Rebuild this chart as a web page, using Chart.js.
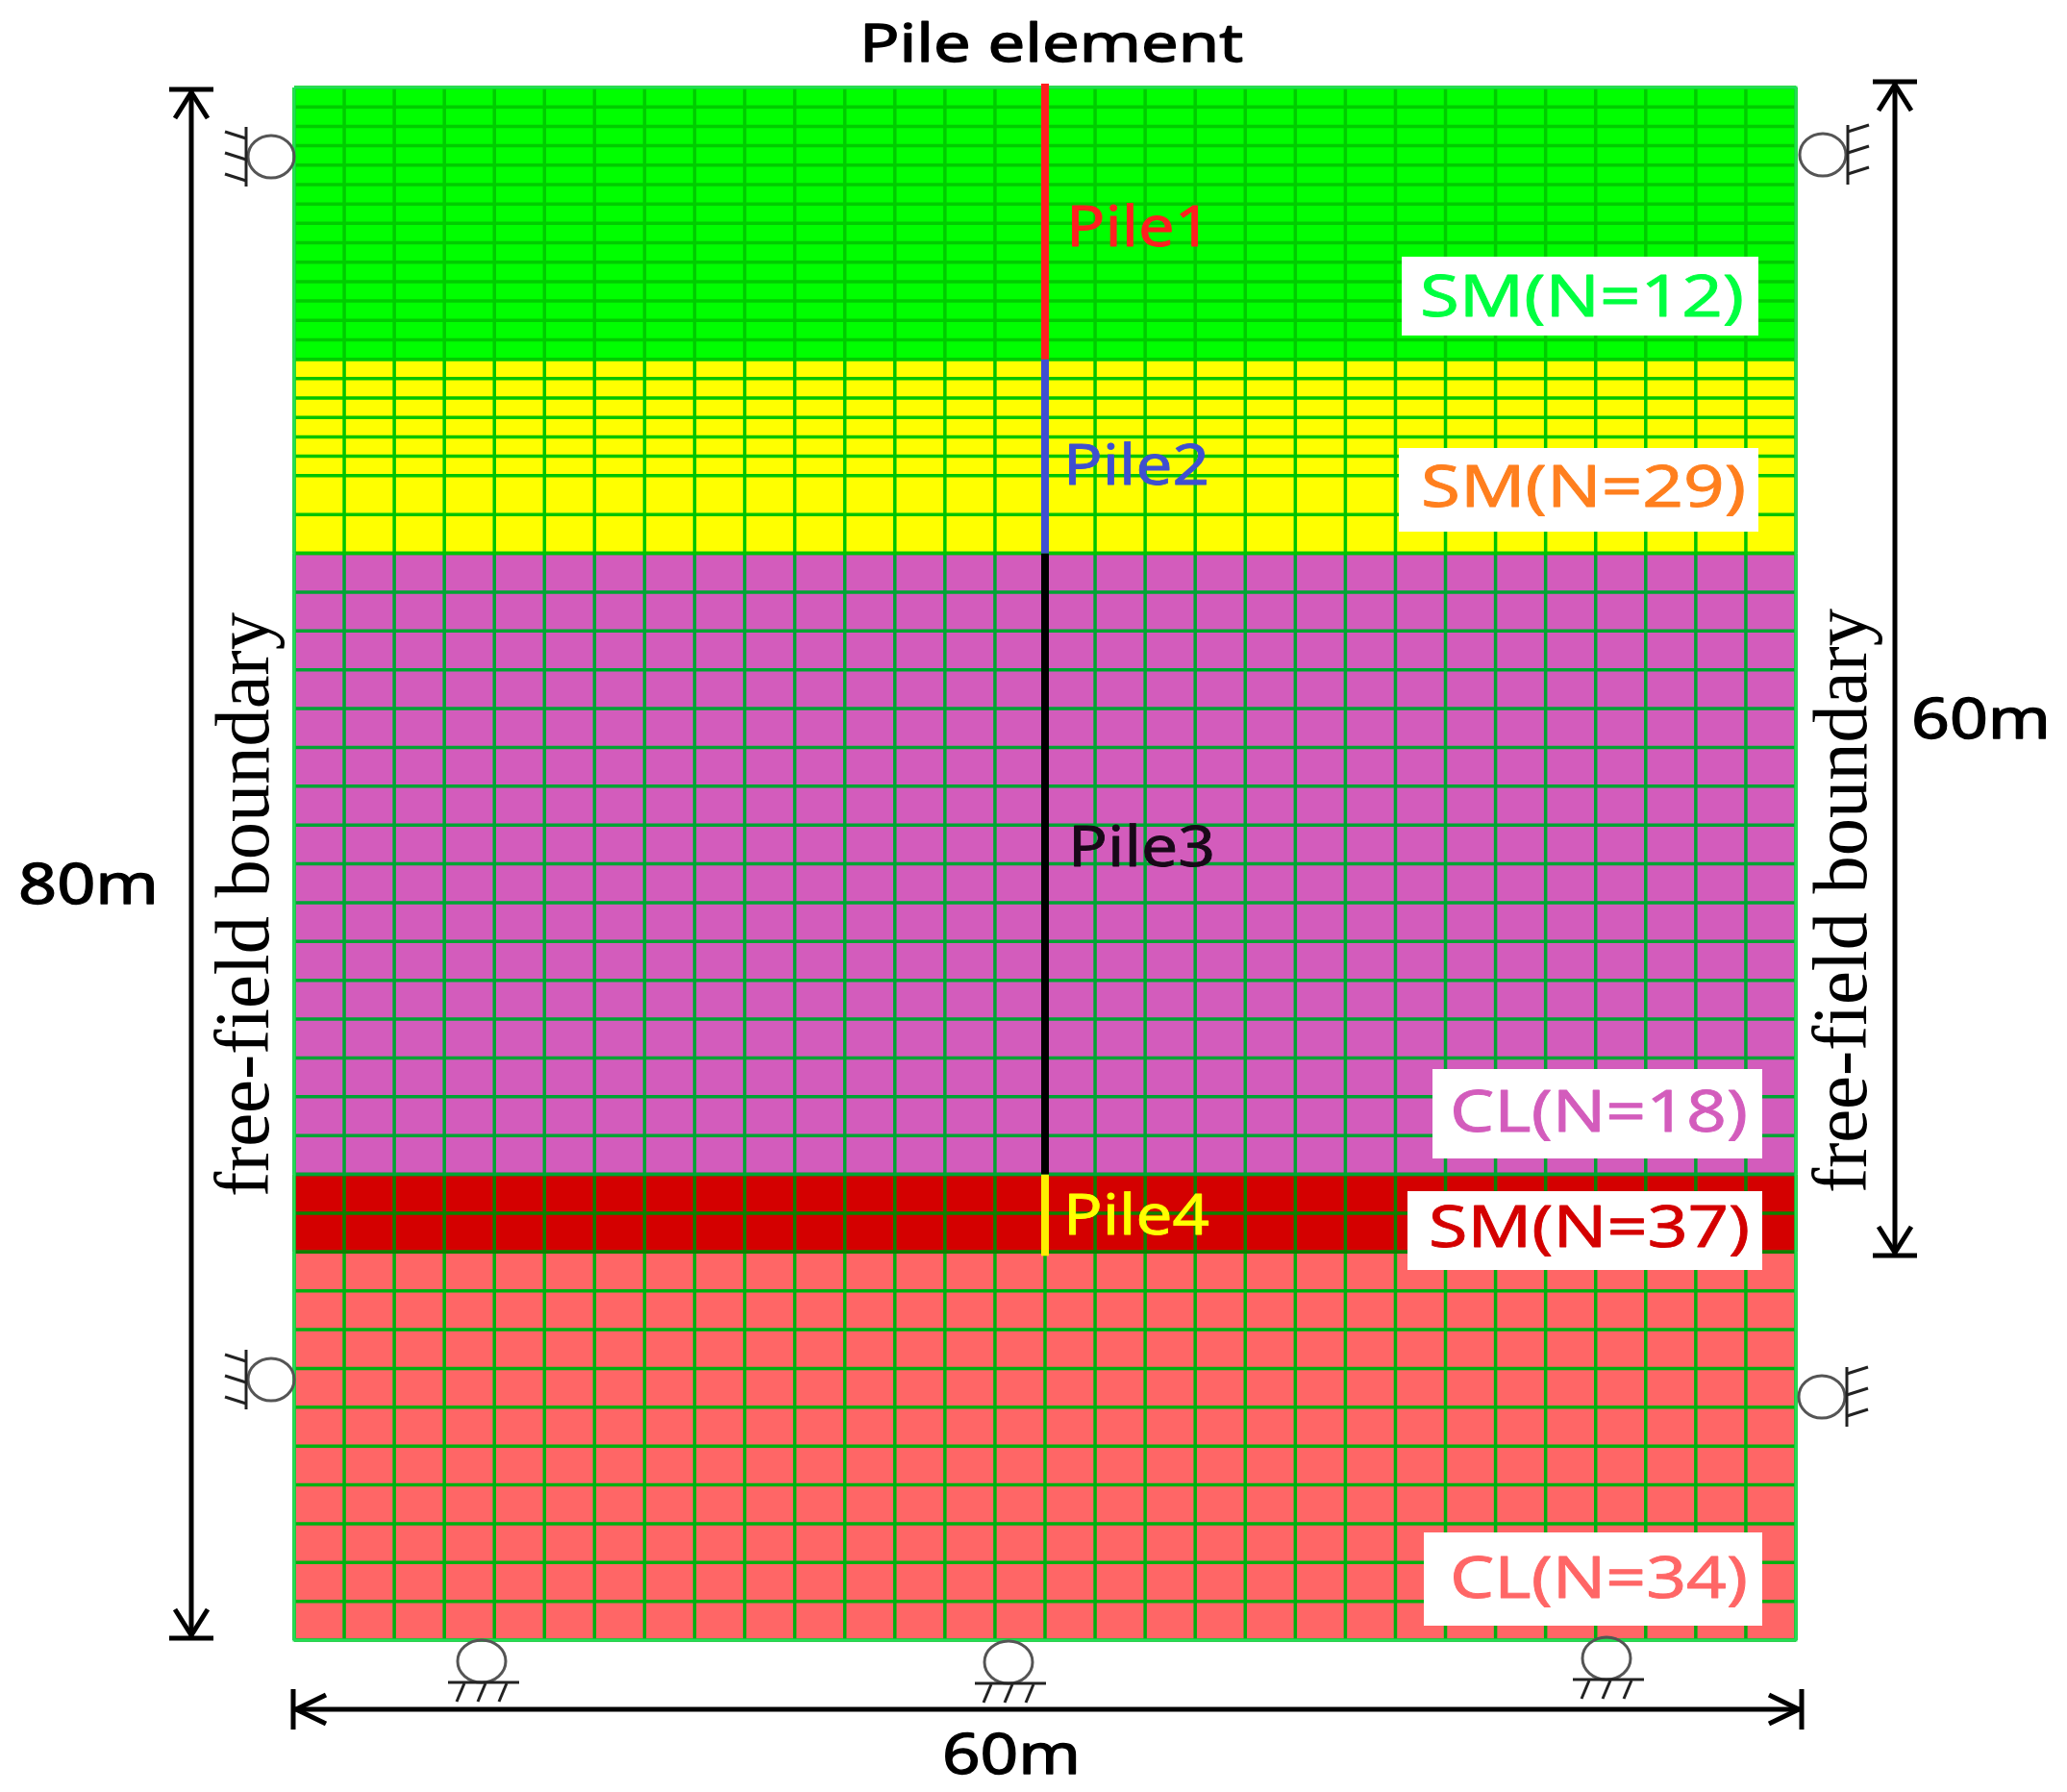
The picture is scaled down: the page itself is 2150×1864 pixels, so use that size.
<!DOCTYPE html>
<html>
<head>
<meta charset="utf-8">
<title>Pile element mesh</title>
<script src="https://cdn.jsdelivr.net/npm/chart.js@4"></script>
<style>
  html, body { margin: 0; padding: 0; background: #fff; }
  canvas { display: block; }
</style>
</head>
<body>
<canvas id="chart" width="2150" height="1864"></canvas>
<script>
// soil layers, depth in metres from the top of the model
var layerNames = ['SM(N=12)', 'SM(N=29)', 'CL(N=18)', 'SM(N=37)', 'CL(N=34)'];
var layerTop = [0, 14, 24, 56, 60];
var layerBottom = [14, 24, 56, 60, 80];
var layerColors = ['#00ff00', '#ffff00', '#d35cbc', '#d40000', '#ff6666'];
var meshColors = ['#00cc00', '#00c400', '#00a434', '#0f8000', '#00b010'];
var labelColors = ['#00ff40', '#ff7f1e', '#d35cbc', '#d40000', '#ff6666'];

// mesh lines, metres
var meshDepths = [0, 1, 2, 3, 4, 5, 6, 7, 8, 9, 10, 11, 12, 13, 14, 15, 16, 17, 18, 19, 20, 22, 24,
  26, 28, 30, 32, 34, 36, 38, 40, 42, 44, 46, 48, 50, 52, 54, 56, 58, 60,
  62, 64, 66, 68, 70, 72, 74, 76, 78, 80];
var meshX = [0, 2, 4, 6, 8, 10, 12, 14, 16, 18, 20, 22, 24, 26, 28, 30,
  32, 34, 36, 38, 40, 42, 44, 46, 48, 50, 52, 54, 56, 58, 60];

// pile segments
var pileNames = ['Pile1', 'Pile2', 'Pile3', 'Pile4'];
var pileX = 30;
var pileTop = [-0.2, 14, 24, 56];
var pileBottom = [14, 24, 56, 60.2];
var pileColors = ['#ff2020', '#3f4fd0', '#000000', '#ffee00'];

var titleText = 'Pile element';
var sideText = 'free-field boundary';
var heightText = '80m';
var widthText = '60m';

// =============================================================
// datasets
// =============================================================
function meshPoints(top, bottom) {
  var pts = [];
  meshDepths.forEach(function (d) {
    if (d < top || d > bottom) return;
    pts.push({ x: 0, y: d }, { x: 60, y: d }, { x: null, y: null });
  });
  meshX.forEach(function (x) {
    pts.push({ x: x, y: top }, { x: x, y: bottom }, { x: null, y: null });
  });
  return pts;
}

var datasets = [];
layerNames.forEach(function (name, i) {
  datasets.push({
    type: 'bar', label: name, xAxisID: 'x', yAxisID: 'y', order: 4,
    data: [[layerTop[i], layerBottom[i]]],
    backgroundColor: layerColors[i], borderWidth: 0,
    barPercentage: 1, categoryPercentage: 1, grouped: false
  });
  datasets.push({
    type: 'line', label: name + ' mesh', xAxisID: 'x2', yAxisID: 'y', order: 3,
    data: meshPoints(layerTop[i], layerBottom[i]),
    borderColor: meshColors[i], borderWidth: 3.5, pointRadius: 0, tension: 0,
    spanGaps: false, fill: false, clip: false
  });
});
datasets.push({
  type: 'line', label: 'outline', xAxisID: 'x2', yAxisID: 'y', order: 2,
  data: [{ x: 0, y: 0 }, { x: 60, y: 0 }, { x: 60, y: 80 }, { x: 0, y: 80 }, { x: 0, y: 0 }],
  borderColor: '#22dd55', borderWidth: 3, pointRadius: 0, tension: 0, fill: false, clip: false
});
pileNames.forEach(function (name, i) {
  datasets.push({
    type: 'line', label: name, xAxisID: 'x2', yAxisID: 'y', order: 1,
    data: [{ x: pileX, y: pileTop[i] }, { x: pileX, y: pileBottom[i] }],
    borderColor: pileColors[i], borderWidth: 8, pointRadius: 0, tension: 0,
    fill: false, clip: false, borderCapStyle: 'butt'
  });
});

// =============================================================
// annotation drawing, pixel layout of the figure
// =============================================================
var SANS = '"Noto Sans", sans-serif';
var SERIF = '"Liberation Serif", serif';

// text fitted to the measured width, the original figure is not square-scaled
function drawLabel(ctx, text, x0, x1, base, size, color, weight) {
  ctx.save();
  ctx.font = size + 'px ' + SANS;
  ctx.fillStyle = color;
  ctx.strokeStyle = color;
  ctx.lineWidth = weight;
  ctx.lineJoin = 'round';
  ctx.textAlign = 'left';
  ctx.textBaseline = 'alphabetic';
  var sx = (x1 - x0) / ctx.measureText(text).width;
  ctx.translate(x0, base);
  ctx.scale(sx, 1);
  ctx.fillText(text, 0, 0);
  ctx.strokeText(text, 0, 0);
  ctx.restore();
}

function drawSideLabel(ctx, text, base, y0, y1, size) {
  ctx.save();
  ctx.font = size + 'px ' + SERIF;
  ctx.fillStyle = '#000';
  ctx.textBaseline = 'alphabetic';
  var sx = (y0 - y1) / ctx.measureText(text).width;
  ctx.translate(base, y0);
  ctx.rotate(-Math.PI / 2);
  ctx.scale(sx, 1);
  ctx.fillText(text, 0, 0);
  ctx.restore();
}

function line(ctx, x0, y0, x1, y1) {
  ctx.beginPath();
  ctx.moveTo(x0, y0);
  ctx.lineTo(x1, y1);
  ctx.stroke();
}

function drawVArrow(ctx, x, y0, y1) {
  ctx.strokeStyle = '#000';
  ctx.lineWidth = 5;
  line(ctx, x, y0, x, y1);
  line(ctx, x - 23, y0, x + 23, y0);
  line(ctx, x - 23, y1, x + 23, y1);
  line(ctx, x - 17, y0 + 30, x, y0 + 3);
  line(ctx, x + 17, y0 + 30, x, y0 + 3);
  line(ctx, x - 17, y1 - 30, x, y1 - 3);
  line(ctx, x + 17, y1 - 30, x, y1 - 3);
}

function drawHArrow(ctx, y, x0, x1) {
  ctx.strokeStyle = '#000';
  ctx.lineWidth = 5;
  line(ctx, x0, y, x1, y);
  line(ctx, x0, y - 21, x0, y + 21);
  line(ctx, x1, y - 21, x1, y + 21);
  line(ctx, x0 + 34, y - 15, x0 + 3, y);
  line(ctx, x0 + 34, y + 15, x0 + 3, y);
  line(ctx, x1 - 34, y - 15, x1 - 3, y);
  line(ctx, x1 - 34, y + 15, x1 - 3, y);
}

// roller on a wall, side = -1 wall to the left of the roller, +1 to the right
function drawSideSupport(ctx, cx, cy, side) {
  var wall = cx + side * 26;
  ctx.strokeStyle = '#555';
  ctx.lineWidth = 3;
  ctx.beginPath();
  ctx.ellipse(cx, cy, 24, 22, 0, 0, Math.PI * 2);
  ctx.stroke();
  ctx.strokeStyle = '#222';
  line(ctx, wall, cy - 31, wall, cy + 31);
  [-24, -2, 20].forEach(function (d) {
    if (side < 0) line(ctx, wall - 22, d + cy - 2, wall, d + cy + 5);
    else line(ctx, wall + 22, d + cy - 7, wall, d + cy);
  });
}

function drawBottomSupport(ctx, cx, cy) {
  var base = cy + 22;
  ctx.strokeStyle = '#555';
  ctx.lineWidth = 3;
  ctx.beginPath();
  ctx.ellipse(cx, cy, 25, 22, 0, 0, Math.PI * 2);
  ctx.stroke();
  ctx.strokeStyle = '#222';
  line(ctx, cx - 35, base, cx + 39, base);
  [-22, 0, 22].forEach(function (d) {
    line(ctx, cx + d + 4, base + 1, cx + d - 4, base + 20);
  });
}

var overlay = {
  id: 'overlay',
  afterDraw: function (chart) {
    var ctx = chart.ctx;
    ctx.save();

    // white boxes, then the layer names
    var boxes = [[1458, 267, 1829, 349], [1455, 466, 1829, 553], [1490, 1112, 1833, 1205],
      [1464, 1239, 1833, 1321], [1481, 1594, 1833, 1691]];
    var texts = [[1477, 1814, 329], [1478, 1816, 527], [1508, 1818, 1177],
      [1486, 1820, 1297], [1508, 1818, 1662]];
    layerNames.forEach(function (name, i) {
      var b = boxes[i], t = texts[i];
      ctx.fillStyle = '#fff';
      ctx.fillRect(b[0], b[1], b[2] - b[0], b[3] - b[1]);
      drawLabel(ctx, name, t[0], t[1], t[2], 60, labelColors[i], 0.8);
    });

    // pile names
    var pileText = [[1109, 1260, 256, '#ff2020'], [1106, 1258, 504, '#3f4fd0'],
      [1111, 1264, 901, '#180818'], [1106, 1258, 1284, '#ffff00']];
    pileNames.forEach(function (name, i) {
      var t = pileText[i];
      drawLabel(ctx, name, t[0], t[1], t[2], 58, t[3], 0.8);
    });

    drawLabel(ctx, titleText, 894, 1293, 64, 54, '#000', 1.3);
    drawLabel(ctx, heightText, 19, 165, 940, 59, '#000', 1.3);
    drawLabel(ctx, widthText, 1988, 2133, 768, 59, '#000', 1.3);
    drawLabel(ctx, widthText, 980, 1124, 1845, 59, '#000', 1.3);

    drawSideLabel(ctx, sideText, 279, 1245, 637, 80);
    drawSideLabel(ctx, sideText, 1941, 1241, 633, 80);

    drawVArrow(ctx, 199, 93, 1704);
    drawVArrow(ctx, 1971, 85, 1306);
    drawHArrow(ctx, 1778, 305, 1874);

    drawSideSupport(ctx, 282, 163, -1);
    drawSideSupport(ctx, 282, 1435, -1);
    drawSideSupport(ctx, 1896, 161, 1);
    drawSideSupport(ctx, 1895, 1453, 1);
    drawBottomSupport(ctx, 501, 1728);
    drawBottomSupport(ctx, 1049, 1729);
    drawBottomSupport(ctx, 1671, 1725);

    ctx.restore();
  }
};

// =============================================================
// chart
// =============================================================
new Chart(document.getElementById('chart'), {
  data: { labels: ['mesh'], datasets: datasets },
  plugins: [overlay],
  options: {
    responsive: false,
    devicePixelRatio: 1,
    animation: false,
    layout: { padding: { left: 306, right: 282, top: 91, bottom: 158 } },
    plugins: { legend: { display: false }, title: { display: false }, tooltip: { enabled: false } },
    scales: {
      x: { display: false },
      x2: { type: 'linear', display: false, min: 0, max: 60 },
      y: { type: 'linear', display: false, min: 0, max: 80, reverse: true }
    }
  }
});
</script>
</body>
</html>
